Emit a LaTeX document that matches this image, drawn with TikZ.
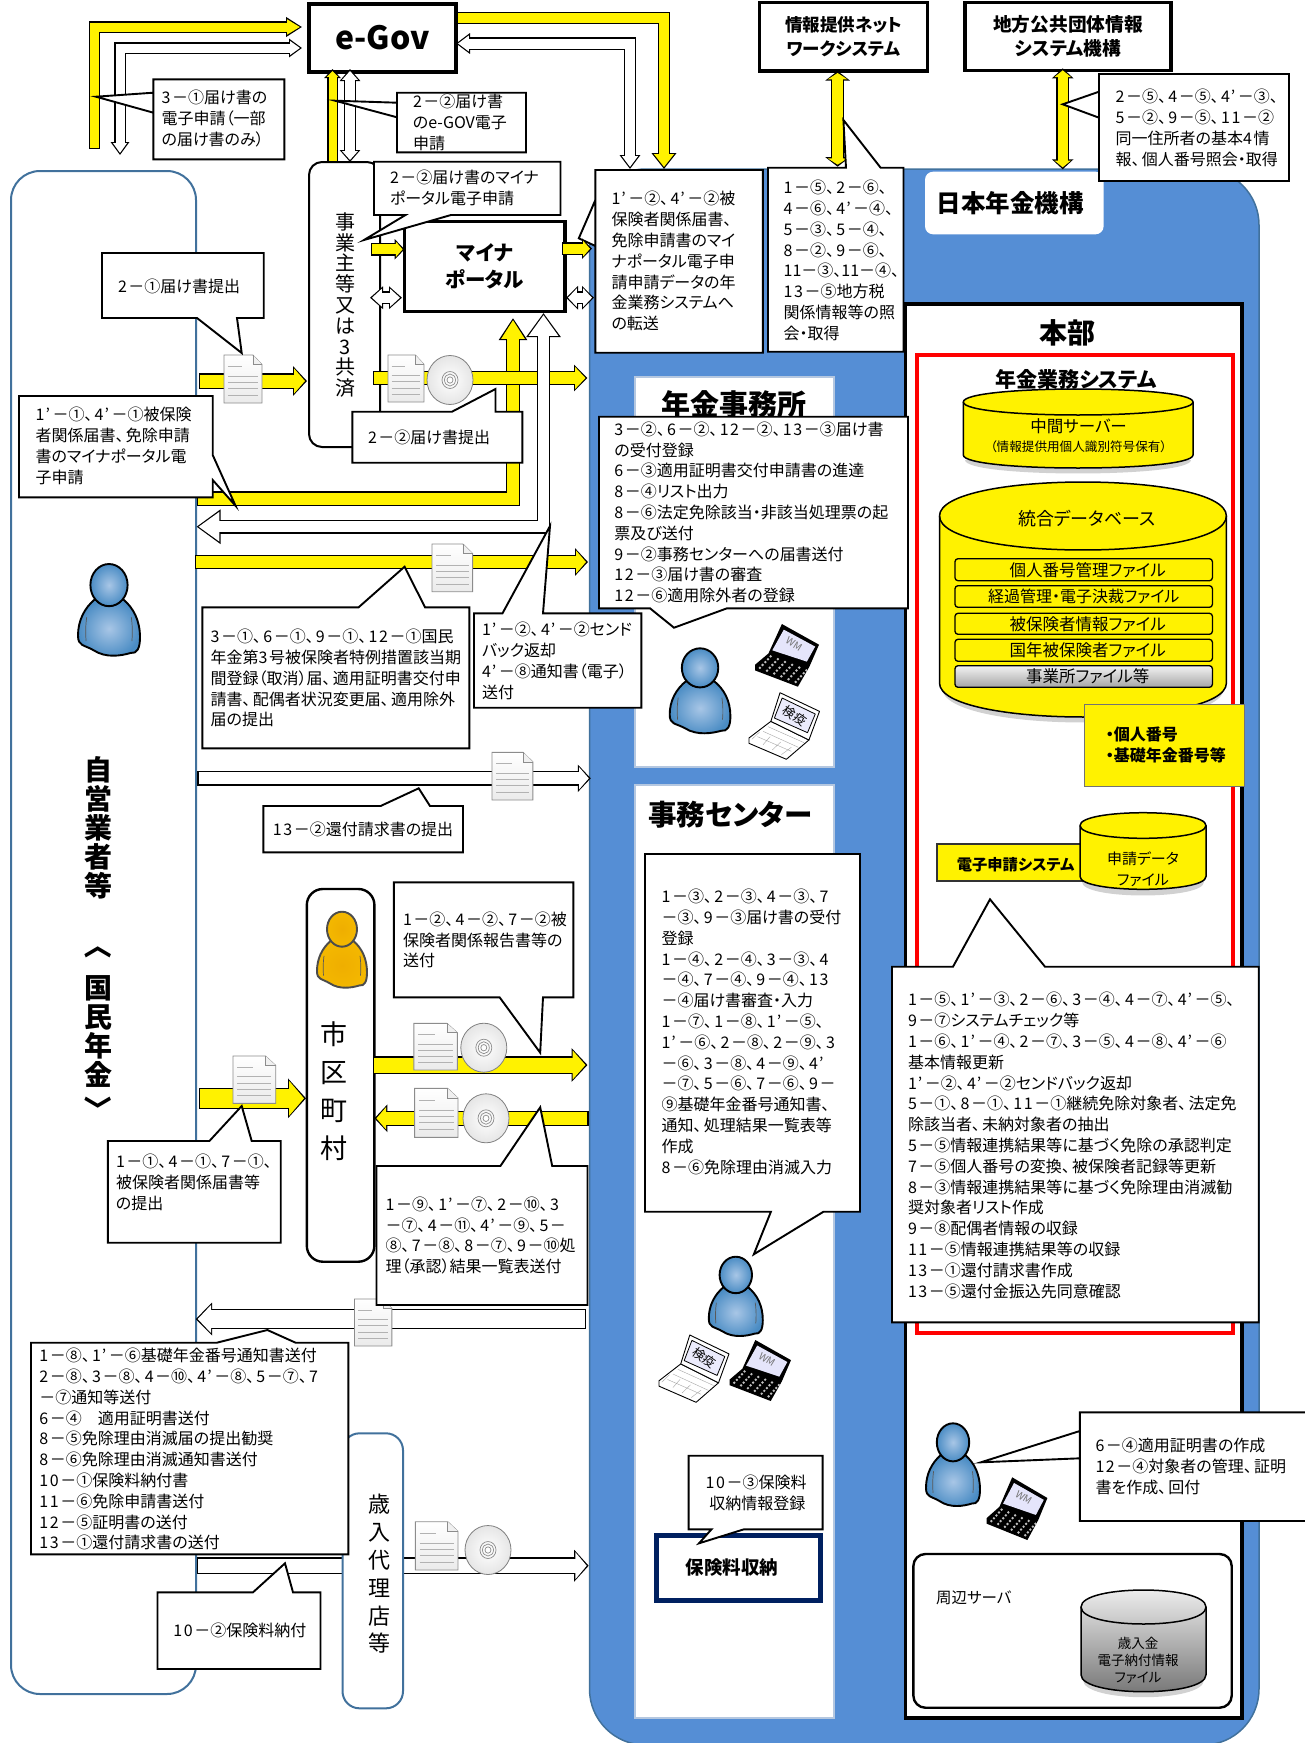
\documentclass[tikz,border=0pt]{standalone}
\usepackage{fontspec}
\setmainfont[RawFeature=+palt]{Noto Sans CJK JP}
\usetikzlibrary{arrows.meta}
\XeTeXinterchartokenstate=1
\newXeTeXintercharclass\digc
\newXeTeXintercharclass\cmac
\newXeTeXintercharclass\aposc
\XeTeXcharclass`\0=\digc \XeTeXcharclass`\1=\digc \XeTeXcharclass`\2=\digc \XeTeXcharclass`\3=\digc \XeTeXcharclass`\4=\digc
\XeTeXcharclass`\5=\digc \XeTeXcharclass`\6=\digc \XeTeXcharclass`\7=\digc \XeTeXcharclass`\8=\digc \XeTeXcharclass`\9=\digc
\XeTeXcharclass`、=\cmac
\XeTeXcharclass`’=\aposc
\XeTeXinterchartoks\digc 0={\kern1.6pt}\XeTeXinterchartoks\digc 1={\kern1.6pt}\XeTeXinterchartoks\digc 2={\kern1.6pt}\XeTeXinterchartoks\digc 3={\kern1.6pt}
\XeTeXinterchartoks\digc\digc={\kern1.6pt}\XeTeXinterchartoks\digc\aposc={\kern1pt}
\XeTeXinterchartoks\cmac 0={\kern2.2pt}\XeTeXinterchartoks\cmac 1={\kern2.2pt}\XeTeXinterchartoks\cmac 2={\kern2.2pt}\XeTeXinterchartoks\cmac 3={\kern2.2pt}\XeTeXinterchartoks\cmac\digc={\kern2.2pt}
\XeTeXinterchartoks\aposc 0={\kern2.5pt}\XeTeXinterchartoks\aposc 1={\kern2.5pt}\XeTeXinterchartoks\aposc 2={\kern2.5pt}\XeTeXinterchartoks\aposc 3={\kern2.5pt}
\definecolor{jblue}{HTML}{558ED5}
\definecolor{jedge}{HTML}{41719C}
\definecolor{jnavy}{HTML}{002060}
\definecolor{jpale}{HTML}{B4C7E0}
\definecolor{pin}{HTML}{A8C6E6}
\definecolor{pout}{HTML}{4A8CC4}
\definecolor{oin}{HTML}{EFAE00}
\definecolor{oout}{HTML}{F4B800}
\newcommand\fs[2]{\fontsize{#1}{#2}\selectfont}
\tikzset{
 x=1pt,y=-1pt,
 arrE/.style 2 args={arrows={-{Triangle[length=#1pt,width=#2pt]}}},
 arrB/.style 2 args={arrows={{Triangle[length=#1pt,width=#2pt]}-{Triangle[length=#1pt,width=#2pt]}}},
 callout/.style={draw=black,fill=white,line width=1.9pt,line join=miter},
 txt/.style={anchor=north west,inner sep=0pt,outer sep=0pt,align=left,font=\fs{16}{20.8}},
 blackbox/.style={draw=black,fill=white,line width=3.2pt},
 subfile/.style={draw=black,fill=yellow,line width=1.3pt,rounded corners=3pt,font=\fs{16.5}{18}},
 cap1/.style={inner sep=0pt,align=center},
}
% block arrow: fill, shaft, tip length, tip width, tip style, path
\newcommand\barrow[6]{%
 \draw[draw=black,line width=#2pt+2.6pt,#5={#3}{#4}] #6;
 \draw[draw=#1,line width=#2pt,#5={#3-3.2}{#4-4.8},shorten >=2pt,shorten <=1.3pt] #6;}
\newcommand\barrowB[6]{%
 \draw[draw=black,line width=#2pt+2.6pt,#5={#3}{#4}] #6;
 \draw[draw=#1,line width=#2pt,#5={#3-3.2}{#4-4.8},shorten >=2pt,shorten <=2pt] #6;}
% text: name, x, centre of first line y, lines
\newcommand\T[4]{\node[txt] (#1) at (#2,#3-8.6) {\strut #4};}
% box from corners
\newcommand\bx[7]{%
 \pgfmathsetmacro\bxw{#4-#2}\pgfmathsetmacro\bxh{#5-#3}%
 \node[#6,minimum width=\bxw pt,minimum height=\bxh pt,inner sep=0pt,outer sep=0pt,align=center] (#1) at ({(#2+#4)/2},{(#3+#5)/2}) {#7};}
% callouts: x1,y1,x2,y2, a,b (on the side), tip x, tip y
\newcommand\calT[8]{\draw[callout] (#1,#2)--(#5,#2)--(#7,#8)--(#6,#2)--(#3,#2)--(#3,#4)--(#1,#4)--cycle;}
\newcommand\calB[8]{\draw[callout] (#1,#2)--(#3,#2)--(#3,#4)--(#6,#4)--(#7,#8)--(#5,#4)--(#1,#4)--cycle;}
\newcommand\calL[8]{\draw[callout] (#1,#2)--(#3,#2)--(#3,#4)--(#1,#4)--(#1,#5)--(#7,#8)--(#1,#6)--cycle;}
\newcommand\calR[8]{\draw[callout] (#1,#2)--(#3,#2)--(#3,#5)--(#7,#8)--(#3,#6)--(#3,#4)--(#1,#4)--cycle;}
% cylinder: x1,x2,top,bottom,ry,style
\newcommand\cyl[6]{%
 \pgfmathsetmacro\ca{#3+#5}\pgfmathsetmacro\cb{#4-#5}%
 \pgfmathsetmacro\cc{#3+#5-1.333*#5}\pgfmathsetmacro\cd{#3+#5+1.333*#5}\pgfmathsetmacro\ce{#4-#5+1.333*#5}%
 \fill[black,opacity=.18] (#1+2,\cb+5)..controls(#1+2,\ce+6)and(#2-2,\ce+6)..(#2-2,\cb+5)--cycle;
 \draw[draw=black,line width=1.5pt,#6] (#1,\ca)--(#1,\cb)..controls(#1,\ce)and(#2,\ce)..(#2,\cb)--(#2,\ca)..controls(#2,\cc)and(#1,\cc)..(#1,\ca)--cycle;
 \draw[black,line width=1.5pt] (#1,\ca)..controls(#1,\cd)and(#2,\cd)..(#2,\ca);}
% person: x1,y1,x2,y2, inner, outer, line
\newcommand\person[7]{%
 \pgfmathsetmacro\pa{(#3-#1)/100}\pgfmathsetmacro\pb{(#4-#2)/100}%
 \begin{scope}[shift={(#1,#2)},xscale=\pa,yscale=\pb,line join=round]
 \draw[draw=#7,line width=1.9pt,inner color=#5,outer color=#6]
 (28,38)..controls(10,48)and(0,62)..(0,78)..controls(0,90)and(10,88)..(25,94)..controls(45,103)and(70,100)..(85,97)..controls(95,98)and(100,92)..(100,80)..controls(100,62)and(90,48)..(72,38)..controls(62,48)and(38,48)..(28,38)--cycle;
 \draw[gray!70!black,line width=.7pt] (14,58)..controls(12,68)and(12,76)..(13,84) (86,58)..controls(88,68)and(88,76)..(87,84);
 \draw[draw=#7,line width=1.9pt,inner color=#5,outer color=#6] (50,23) ellipse [x radius=30,y radius=23];
 \end{scope}}
\newcommand\pblue[4]{\person{#1}{#2}{#3}{#4}{pin}{pout}{black}}
% document icon
\newcommand\docicon[4]{%
 \pgfmathsetmacro\pa{(#3-#1)/100}\pgfmathsetmacro\pb{(#4-#2)/100}%
 \begin{scope}[shift={(#1,#2)},xscale=\pa,yscale=\pb]
 \draw[draw=black!45,line width=.9pt,top color=white,bottom color=black!8] (0,0)--(76,0)--(100,20)--(100,100)--(0,100)--cycle;
 \draw[draw=black!45,line width=.6pt,fill=black!6] (76,0)--(76,20)--(100,20);
 \draw[black!30,line width=.7pt] (10,24)--(48,24) (10,44)--(90,44) (10,57)--(90,57) (10,70)--(90,70) (10,84)--(90,84);
 \end{scope}}
% disc icon
\newcommand\cdicon[2]{%
 \draw[draw=black!50,line width=.8pt,inner color=white,outer color=black!10] (#1,#2) ellipse [x radius=23,y radius=24.5];
 \draw[black!45,line width=.7pt] (#1,#2) ellipse [x radius=8,y radius=8.5] (#1,#2) ellipse [x radius=5.5,y radius=6] (#1,#2) ellipse [x radius=3,y radius=3.2];}
% laptops
\newcommand\lapdark[5]{%
 \pgfmathsetmacro\pa{(#4-#2)/100}\pgfmathsetmacro\pb{(#5-#3)/100}%
 \begin{scope}[shift={(#2,#3)},xscale=\pa,yscale=\pb,line join=round]
 \fill[black] (0,65)--(21,47)--(42,0)--(100,33)--(85,68)--(67,100)--(0,74)--cycle;
 \fill[black!15!blue!10!white] (45,9)--(94,36)--(81,60)--(27,42)--cycle;
 \foreach \i in {0,...,5}{\foreach \j in {0,...,4}{
  \pgfmathsetmacro\uu{(\i+.5)/6}\pgfmathsetmacro\vv{(\j+.5)/5}
  \fill[white!75!black] ({0+\uu*67+\vv*21},{70+\uu*27-\vv*23}) circle [radius=2.2];}}
 \node[inner sep=0pt,rotate=-32,text=black!55,font=\fs{10}{11}] (#1) at (61,32) {WM};
 \end{scope}}
\newcommand\lapwhite[5]{%
 \pgfmathsetmacro\pa{(#4-#2)/100}\pgfmathsetmacro\pb{(#5-#3)/100}%
 \begin{scope}[shift={(#2,#3)},xscale=\pa,yscale=\pb,line join=round]
 \draw[fill=white,line width=.9pt] (0,68)--(31,43)--(85,71)--(53,100)--(0,76)--cycle;
 \draw[black!35,line width=.4pt] (12,66)--(60,88) (20,58)--(70,82) (27,51)--(78,75) (15,59)--(4,70) (30,66)--(20,78) (45,74)--(33,86) (60,82)--(46,93);
 \draw[fill=white,line width=.9pt] (44,0)--(100,28)--(85,71)--(31,43)--cycle;
 \draw[fill=black!15!blue!8!white,line width=.8pt] (47,8)--(94,32)--(83,60)--(36,38)--cycle;
 \node[inner sep=0pt,rotate=-35,font=\fs{12.5}{13}] (#1) at (65,34) {検疫};
 \end{scope}}
\begin{document}
\begin{tikzpicture}
\useasboundingbox (0,0) rectangle (1305,1743);
\clip (0,0) rectangle (1305,1743);
% large regions
\bx{nenkin}{589.5}{169}{1259}{1745}{draw=jedge,line width=1.5pt,fill=jblue,rounded corners=56pt}{}
\bx{jieigyo}{11}{171}{196}{1694}{draw=jedge,line width=2pt,fill=white,rounded corners=29pt}{}
\bx{kikolabel}{925}{171.7}{1103.6}{234.3}{fill=white,rounded corners=8pt,font=\fs{24.5}{26}\bfseries}{\hspace*{-8pt}日本年金機構}
\bx{jimusho}{635}{376.7}{834}{766.7}{draw=jpale,line width=2pt,fill=white}{}
\node[cap1,font=\fs{29}{30}\bfseries] (jimushoT) at (733.5,404) {年金事務所};
\bx{center}{635}{785}{834}{1717.7}{draw=jpale,line width=2pt,fill=white}{}
\node[cap1,anchor=west,font=\fs{28.5}{30}\bfseries] (centerT) at (648,814.3) {事務センター};
\bx{honbu}{905.6}{304}{1242}{1718}{draw=black,line width=3.6pt,fill=white}{}
\node[cap1,font=\fs{28}{30}\bfseries] (honbuT) at (1067.7,333) {本部};
\bx{redsys}{917}{355}{1233}{1333}{draw=red,line width=3.4pt,fill=white}{}
\node[cap1,font=\fs{21}{22}\bfseries] (sysT) at (1076,379) {年金業務システム};
% cylinders
\cyl{963.3}{1193}{389}{468}{13}{fill=yellow}
\node[cap1,font=\fs{16.5}{17}] (midA) at (1078.6,426) {中間サーバー};
\node[cap1,font=\fs{12.6}{14}] (midB) at (1078.6,446.7) {（情報提供用個人識別符号保有）};
\cyl{939.5}{1226.4}{482}{717}{34}{fill=yellow}
\node[cap1,font=\fs{18}{19}] (dbT) at (1087,518.3) {統合データベース};
\bx{f1}{955}{558.7}{1212.4}{580.7}{subfile}{\hspace*{8pt}個人番号管理ファイル}
\bx{f2}{955}{585.7}{1212.4}{607.3}{subfile,font=\fs{16}{18}}{経過管理・電子決裁ファイル}
\bx{f3}{955}{613.3}{1212.4}{634.3}{subfile}{\hspace*{8pt}被保険者情報ファイル}
\bx{f4}{955}{639.3}{1212.4}{661.3}{subfile}{\hspace*{8pt}国年被保険者ファイル}
\bx{f5}{955}{665.7}{1212.4}{687.3}{subfile,fill=none,top color=black!5,bottom color=black!35}{\hspace*{8pt}事業所ファイル等}
\bx{ybox}{1084}{704.3}{1244}{786.7}{draw=black!55,line width=1pt,fill=yellow}{}
\node[txt,font=\fs{16}{20.8}\bfseries] (ybT) at (1105.8,726.4) {\strut ・個人番号\\・基礎年金番号等};
\bx{esys}{937}{844.3}{1083}{881}{draw=black!80,line width=1.8pt,fill=yellow}{}
\node[cap1,anchor=west,font=\fs{15.3}{17}\bfseries] (esysT) at (956.6,864.3) {電子申請システム};
\cyl{1080}{1206}{812.7}{889.3}{12.8}{fill=yellow}
\node[cap1,font=\fs{15}{21}] (edata) at (1143,868.8) {申請データ\\ファイル};
% top boxes
\bx{egov}{309}{4}{456}{72}{blackbox,font=\fs{32}{36}\bfseries}{\raisebox{-4.5pt}{e-Gov}}
\bx{joho}{759.4}{2.7}{927.8}{71}{blackbox,font=\fs{17.5}{24.4}\bfseries}{情報提供ネット\\ワークシステム}
\bx{chiho}{965}{2.3}{1171}{70.7}{blackbox,font=\fs{18.7}{24.4}\bfseries}{地方公共団体情報\\システム機構}
% intermediary boxes
\bx{jigyo}{309}{162}{380}{447}{draw=black,line width=2pt,fill=white,rounded corners=13pt}{}
\node[cap1,font=\fs{20}{20.8}] (jigyoT) at (345,305) {事\\業\\主\\等\\又\\は\\3\\共\\済};
\bx{shiku}{306.8}{889}{374.4}{1261.7}{draw=black,line width=2.4pt,fill=white,rounded corners=16pt}{}
\node[cap1,font=\fs{27}{38.2}] (shikuT) at (334,1091) {市\\区\\町\\村};
\person{317}{911.7}{367}{987.7}{oin}{oout}{black!70}
% self-employed
\pblue{78}{564}{140}{655.7}
\node[cap1,font=\fs{28}{29}\bfseries] (selfT) at (98,828) {自\\営\\業\\者\\等};
\node[cap1,rotate=-90,font=\fs{28}{29}\bfseries] (selfL) at (98,951) {〈};
\node[cap1,font=\fs{28}{29}\bfseries] (selfU) at (98,1031.5) {国\\民\\年\\金};
\node[cap1,rotate=-90,font=\fs{28}{29}\bfseries] (selfR) at (98,1103.5) {〉};
% named arrow ends
\coordinate (a1) at (94.5,149); \coordinate (a1c) at (94.5,27); \coordinate (a1e) at (302,27);
\coordinate (a2) at (120,155); \coordinate (a2c) at (120,48); \coordinate (a2e) at (302,48);
\coordinate (a3) at (457,18); \coordinate (a3c) at (664,18); \coordinate (a3e) at (664,169);
\coordinate (a4) at (456,43.5); \coordinate (a4c) at (630,43.5); \coordinate (a4e) at (630,169);
\coordinate (a5) at (332.5,162); \coordinate (a5e) at (332.5,69);
\coordinate (a6) at (350,162); \coordinate (a6e) at (350,69);
\barrow{yellow}{9}{16}{19}{arrE}{(a1)--(a1c)--(a1e)}
\barrowB{white}{9}{13}{18}{arrB}{(a2)--(a2c)--(a2e)}
\barrow{yellow}{10}{16}{24}{arrE}{(a3)--(a3c)--(a3e)}
\barrowB{white}{10}{14}{20}{arrB}{(a4)--(a4c)--(a4e)}
\barrow{yellow}{8}{9}{16}{arrE}{(a5)--(a5e)}
\barrowB{white}{10}{12}{20}{arrB}{(a6)--(a6e)}
% yellow and white long returns
\coordinate (b1) at (197,498.5); \coordinate (b1c) at (513,498.5); \coordinate (b1e) at (513,318);
\coordinate (b2) at (196.5,526.7); \coordinate (b2c) at (543.5,526.7); \coordinate (b2e) at (543.5,313);
\barrow{yellow}{12}{22}{27}{arrE}{(b1)--(b1c)--(b1e)}
\coordinate (c1) at (373,378); \coordinate (c1e) at (587.5,378);
\barrow{yellow}{12}{13.5}{26}{arrE}{(c1)--(c1e)}
\barrowB{white}{11}{24}{33}{arrB}{(b2)--(b2c)--(b2e)}
\coordinate (c2) at (199,381); \coordinate (c2e) at (307,381);
\barrow{yellow}{13}{14}{29}{arrE}{(c2)--(c2e)}
\docicon{224}{355}{262}{403}
\docicon{388}{355}{424}{402}
\cdicon{450}{380}
\coordinate (c3) at (195,562); \coordinate (c3e) at (588,562);
\barrow{yellow}{12}{13}{27}{arrE}{(c3)--(c3e)}
\docicon{432}{544}{472.6}{591.7}
\coordinate (c4) at (197.3,778.3); \coordinate (c4e) at (590.8,778.3);
\barrow{white}{12}{13}{26.7}{arrE}{(c4)--(c4e)}
\docicon{492}{752.3}{532.8}{800}
% municipal arrows
\coordinate (d1) at (373,1065); \coordinate (d1e) at (587.5,1065);
\barrow{yellow}{15}{16}{33}{arrE}{(d1)--(d1e)}
\coordinate (d2) at (588.7,1118.3); \coordinate (d2e) at (374.4,1118.3);
\barrow{yellow}{13}{13}{27}{arrE}{(d2)--(d2e)}
\coordinate (d3) at (199,1098.3); \coordinate (d3e) at (306,1098.3);
\barrow{yellow}{19}{18}{38.7}{arrE}{(d3)--(d3e)}
\docicon{413.8}{1023.3}{457.3}{1070}
\cdicon{483.8}{1047.7}
\docicon{414.6}{1088.3}{458}{1137.3}
\cdicon{486}{1118.3}
\docicon{233}{1056}{275.7}{1103.3}
\coordinate (d4) at (585.8,1319); \coordinate (d4e) at (195.7,1319);
\barrow{white}{18.3}{16.5}{32}{arrE}{(d4)--(d4e)}
\docicon{354.5}{1299}{391.8}{1346}
% vertical links to the top systems
\coordinate (e1) at (837.6,166.7); \coordinate (e1e) at (837.6,71);
\barrowB{yellow}{11}{9.5}{24}{arrB}{(e1)--(e1e)}
\coordinate (e2) at (1062.7,169.3); \coordinate (e2e) at (1062.7,68.3);
\barrowB{yellow}{10}{10}{21}{arrB}{(e2)--(e2e)}
% bank and premium arrow
\coordinate (f1) at (197,1565.7); \coordinate (f1e) at (588.7,1565.7);
\barrow{white}{14.3}{14.5}{31}{arrE}{(f1)--(f1e)}
\bx{bank}{342.5}{1433.3}{403}{1708.3}{draw=jedge,line width=2pt,fill=white,rounded corners=17pt}{}
\node[cap1,font=\fs{22}{27.8}] (bankT) at (379.4,1574) {歳\\入\\代\\理\\店\\等};
\docicon{415.4}{1521.7}{458}{1570}
\cdicon{488}{1550}
% people and laptops
\pblue{669.7}{648.3}{730.4}{733.3}
\lapdark{wmA}{755}{624}{819}{686.7}
\lapwhite{kenA}{749}{692.7}{819.5}{759.3}
\pblue{708.8}{1256.7}{762.8}{1336}
\lapwhite{kenB}{659}{1335}{729}{1402.3}
\lapdark{wmB}{729.5}{1340}{791}{1401}
\pblue{926}{1423.3}{980}{1506}
\lapdark{wmC}{986.7}{1477.3}{1047.4}{1540}
% callouts
\calL{153.4}{79.3}{284.4}{159.3}{92.7}{112.7}{96}{96.7}
\T{tA}{161.7}{98}{3－①届け書の\\電子申請（一部\\の届け書のみ）}
\calL{397}{92.7}{526}{152.3}{102.7}{117.3}{335}{100.7}
\T{tB}{413}{101.7}{2－②届け書\\のe-GOV電子\\申請}
% portal
\bx{portal}{404.6}{221.7}{565}{311.7}{draw=black,line width=3.4pt,fill=white,font=\fs{20.5}{27}\bfseries}{マイナ\\ポータル}
\calB{374}{161.7}{560.5}{215}{405.5}{451}{364}{240}
\T{tC}{390}{177.7}{2－②届け書のマイナ\\ポータル電子申請}
\coordinate (g1) at (371,249.3); \coordinate (g1e) at (portal.west|-g1);
\barrow{yellow}{10}{10}{20}{arrE}{(g1)--(g1e)}
\coordinate (g2) at (370,297.7); \coordinate (g2e) at (402,297.7);
\barrowB{white}{10}{13}{22}{arrB}{(g2)--(g2e)}
\draw[callout] (102,253)--(263.7,253)--(263.7,318)--(237,318)--(241.7,353)--(197,318)--(102,318)--cycle;
\T{tD}{118}{286.7}{2－①届け書提出}
\calT{352.4}{411.7}{522.4}{462.7}{452}{495.5}{495.5}{389}
\T{tE}{368}{437.7}{2－②届け書提出}
\calR{19}{396}{212.7}{497.3}{455}{480}{235.5}{505.7}
\T{tF}{35.7}{415}{1’－①、4’－①被保険\\者関係届書、免除申請\\書のマイナポータル電\\子申請}
\calL{595.4}{170}{762.8}{352.7}{200}{246}{578.8}{238.3}
\T{tG}{611.5}{199}{1’－②、4’－②被\\保険者関係届書、\\免除申請書のマイ\\ナポータル電子申\\請申請データの年\\金業務システムへ\\の転送}
\coordinate (g3) at (562,248.7); \coordinate (g3e) at (592,248.7);
\barrow{yellow}{10}{10}{20}{arrE}{(g3)--(g3e)}
\coordinate (g4) at (566,297.7); \coordinate (g4e) at (594,297.7);
\barrowB{white}{10}{12}{23}{arrB}{(g4)--(g4e)}
\calT{768}{167.7}{903.5}{351.7}{846}{880.6}{843.4}{120}
\T{tH}{783.7}{187.7}{1－⑤、2－⑥、\\4－⑥、4’－④、\\5－③、5－④、\\8－②、9－⑥、\\{\XeTeXinterchartokenstate=0 11－③、11－④、}\\13－⑤地方税\\関係情報等の照\\会・取得}
\calL{1099}{74}{1289}{181}{91.7}{117.7}{1062.7}{104.3}
\T{tI}{1115.7}{96.7}{2－⑤、4－⑤、4’－③、\\5－②、9－⑤、11－②\\同一住所者の基本4情\\報、個人番号照会・取得}
\calB{599}{416.7}{908}{608.3}{650}{727}{674}{627.7}
\T{tK}{614.4}{429.3}{3－②、6－②、12－②、13－③届け書\\の受付登録\\6－③適用証明書交付申請書の進達\\8－④リスト出力\\8－⑥法定免除該当・非該当処理票の起\\票及び送付\\9－②事務センターへの届書送付\\12－③届け書の審査\\12－⑥適用除外者の登録}
\calT{202.3}{607.3}{469.3}{748.3}{358.6}{425}{404.6}{566.7}
\T{tL}{210.6}{636.7}{3－①、6－①、9－①、12－①国民\\年金第3号被保険者特例措置該当期\\間登録（取消）届、適用証明書交付申\\請書、配偶者状況変更届、適用除外\\届の提出}
\calT{474}{613.3}{641.4}{707.7}{502.5}{543}{550}{526}
\T{tM}{482}{630}{1’－②、4’－②センド\\バック返却\\4’－⑧通知書（電子）\\送付}
\calT{263.3}{806}{463}{852.3}{380.6}{430}{418.7}{788.3}
\T{tN}{272.8}{830}{13－②還付請求書の提出}
\calB{393.9}{882.3}{573.4}{997.3}{499.6}{543}{540.2}{1052.7}
\T{tO}{403}{919.3}{1－②、4－②、7－②被\\保険者関係報告書等の\\送付}
\calT{107.8}{1141}{280.7}{1242.7}{209.4}{251.7}{241.7}{1106}
\T{tP}{116}{1161.7}{1－①、4－①、7－①、\\被保険者関係届書等\\の提出}
\calT{376.5}{1166}{587.5}{1305}{500.4}{552.2}{540.2}{1107.3}
\T{tQ}{385.6}{1204.3}{1－⑨、1’－⑦、2－⑩、3\\－⑦、4－⑪、4’－⑨、5－\\⑧、7－⑧、8－⑦、9－⑩処\\理（承認）結果一覧表送付}
\calT{31}{1342.7}{348.3}{1554.3}{216.8}{295.6}{267.4}{1330}
\T{tR}{39.4}{1355.7}{1－⑧、1’－⑥基礎年金番号通知書送付\\2－⑧、3－⑧、4－⑩、4’－⑧、5－⑦、7\\－⑦通知等送付\\6－④　適用証明書送付\\8－⑤免除理由消滅届の提出勧奨\\8－⑥免除理由消滅通知書送付\\10－①保険料納付書\\11－⑥免除申請書送付\\12－⑤証明書の送付\\13－①還付請求書の送付}
\calT{157.5}{1592.3}{320.5}{1669}{253}{293}{285}{1563.3}
\T{tS}{173.3}{1630.7}{10－②保険料納付}
\calB{645}{854}{860}{1211.7}{770.9}{823.5}{753.8}{1254.3}
\T{tT}{661.6}{896.7}{1－③、2－③、4－③、7\\－③、9－③届け書の受付\\登録\\1－④、2－④、3－③、4\\－④、7－④、9－④、13\\－④届け書審査・入力\\1－⑦、1－⑧、1’－⑤、\\1’－⑥、2－⑧、2－⑨、3\\－⑥、3－⑧、4－⑨、4’\\－⑦、5－⑥、7－⑥、9－\\⑨基礎年金番号通知書、\\通知、処理結果一覧表等\\作成\\8－⑥免除理由消滅入力}
\calT{892}{966.7}{1258.7}{1322.3}{953}{1045}{990}{899.3}
\T{tJ}{908}{1000}{1－⑤、1’－③、2－⑥、3－④、4－⑦、4’－⑤、\\9－⑦システムチェック等\\1－⑥、1’－④、2－⑦、3－⑤、4－⑧、4’－⑥\\基本情報更新\\1’－②、4’－②センドバック返却\\5－①、8－①、11－①継続免除対象者、法定免\\除該当者、未納対象者の抽出\\5－⑤情報連携結果等に基づく免除の承認判定\\7－⑤個人番号の変換、被保険者記録等更新\\8－③情報連携結果等に基づく免除理由消滅勧\\奨対象者リスト作成\\9－⑧配偶者情報の収録\\11－⑤情報連携結果等の収録\\13－①還付請求書作成\\13－⑤還付金振込先同意確認}
% premium box
\bx{hoken}{656}{1535}{820}{1600}{draw=jnavy,line width=5pt,fill=white}{}
\node[cap1,anchor=west,font=\fs{18.5}{20}\bfseries] (hokenT) at (685.4,1567.7) {保険料収納};
\calB{688.6}{1455.7}{822.6}{1529.3}{711.5}{743.9}{699}{1543.3}
\T{tU}{705.7}{1482.3}{10－③保険料\\\ 収納情報登録}
\calL{1079.8}{1412.3}{1312}{1521}{1431}{1458.3}{980.8}{1462.3}
\T{tV}{1095.5}{1446}{6－④適用証明書の作成\\12－④対象者の管理、証明\\書を作成、回付}
% peripheral server
\bx{shuhen}{913.4}{1554}{1231.7}{1707.7}{draw=black,line width=2.4pt,fill=white,rounded corners=12pt}{}
\node[cap1,anchor=west,font=\fs{15.5}{17}] (shuhenT) at (935.9,1597.3) {周辺サーバ};
\cyl{1081}{1206}{1590}{1691.7}{17}{top color=black!5,bottom color=black!55}
\node[cap1,font=\fs{13.5}{17}] (saiT) at (1138,1660.3) {歳入金\\電子納付情報\\ファイル};
\end{tikzpicture}
\end{document}
